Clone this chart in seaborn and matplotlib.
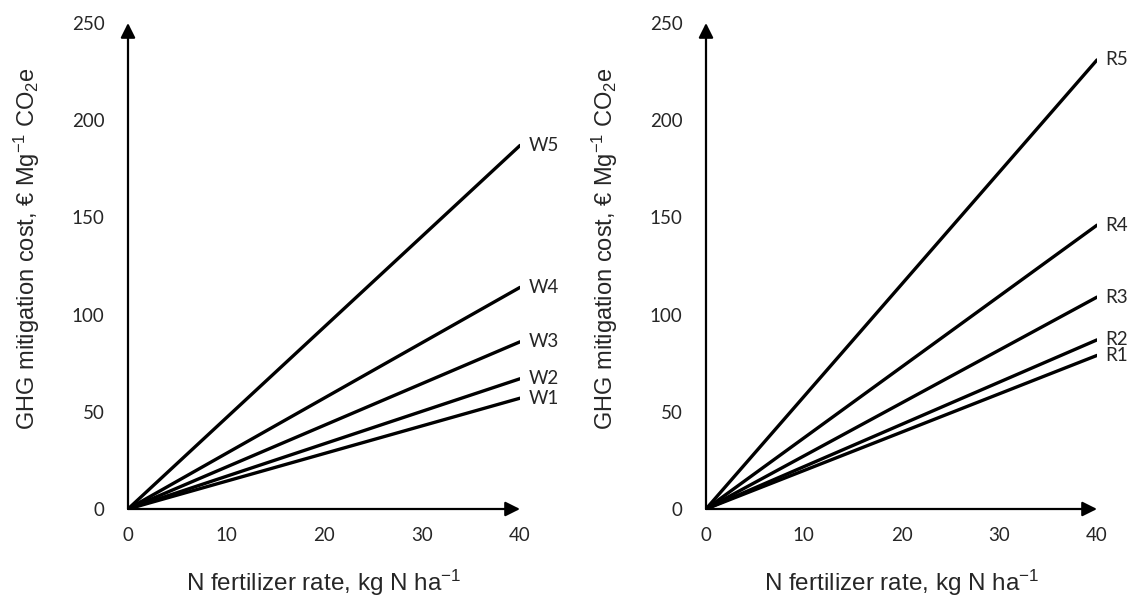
import pandas as pd
import matplotlib.pyplot as plt
import seaborn as sns

# Endpoint costs at 40 kg N/ha (lines start at origin)
rate = [0, 40]
w_names = ['W1', 'W2', 'W3', 'W4', 'W5']
w_cost = [57, 67, 86, 114, 187]
r_names = ['R1', 'R2', 'R3', 'R4', 'R5']
r_cost = [79, 87, 109, 146, 231]

x_ticks = [0, 10, 20, 30, 40]
y_ticks = [0, 50, 100, 150, 200, 250]

sns.set_theme(style='white')
plt.rcParams['font.family'] = ['Liberation Sans', 'DejaVu Sans']
plt.rcParams['mathtext.fontset'] = 'custom'
plt.rcParams['mathtext.rm'] = 'Liberation Sans'
plt.rcParams['mathtext.it'] = 'Liberation Sans'
plt.rcParams['mathtext.bf'] = 'Liberation Sans:bold'

ARIAL = ['Liberation Sans', 'DejaVu Sans']
CALIBRI = ['Lato', 'DejaVu Sans']

fig = plt.figure(figsize=(11.44, 5.99), dpi=100)
ax1 = fig.add_axes([128 / 1144, 1 - 509 / 599, 392 / 1144, 486 / 599])
ax2 = fig.add_axes([706 / 1144, 1 - 509 / 599, 391 / 1144, 486 / 599])

ylab = 'GHG mitigation cost, € Mg$^{\\mathregular{-1}}$ CO$_{\\mathregular{2}}$e'
xlab = 'N fertilizer rate, kg N ha$^{\\mathregular{-1}}$'


def long_frame(names, costs):
    rows = []
    for n, c in zip(names, costs):
        for x in rate:
            rows.append({'series': n, 'rate': x, 'cost': c * x / rate[-1]})
    return pd.DataFrame(rows)


for ax, names, costs in [(ax1, w_names, w_cost), (ax2, r_names, r_cost)]:
    df = long_frame(names, costs)
    sns.lineplot(data=df, x='rate', y='cost', hue='series',
                 palette=['black'] * len(names), linewidth=2.4,
                 legend=False, ax=ax, solid_capstyle='round')
    for n, c in zip(names, costs):
        ax.annotate(n, (rate[-1], c), xytext=(6, 0), textcoords='offset points',
                    va='center', ha='left', fontsize=13.5, family=CALIBRI,
                    annotation_clip=False)
    ax.set_xlim(0, 40)
    ax.set_ylim(0, 250)
    ax.set_xticks(x_ticks)
    ax.set_yticks(y_ticks)
    ax.set_xticklabels([str(t) for t in x_ticks], family=CALIBRI, fontsize=13.5)
    ax.set_yticklabels([str(t) for t in y_ticks], family=CALIBRI, fontsize=13.5)
    ax.tick_params(axis='x', length=0, pad=13)
    ax.tick_params(axis='y', length=0, pad=17)
    for s in ax.spines.values():
        s.set_visible(False)
    # axis lines with arrow heads
    ax.annotate('', xy=(1, 0), xytext=(0, 0), xycoords='axes fraction',
                arrowprops=dict(arrowstyle='-|>', color='black', lw=1.6,
                                mutation_scale=22, shrinkA=0, shrinkB=0))
    ax.annotate('', xy=(0, 1), xytext=(0, 0), xycoords='axes fraction',
                arrowprops=dict(arrowstyle='-|>', color='black', lw=1.6,
                                mutation_scale=22, shrinkA=0, shrinkB=0))
    ax.set_xlabel(xlab, fontsize=17.5, family=ARIAL)
    ax.set_ylabel(ylab, fontsize=17, family=ARIAL)
    ax.xaxis.set_label_coords(0.5, -0.122)
    ax.yaxis.set_label_coords(-0.22, 0.535)

fig.savefig('out.png', dpi=100)
